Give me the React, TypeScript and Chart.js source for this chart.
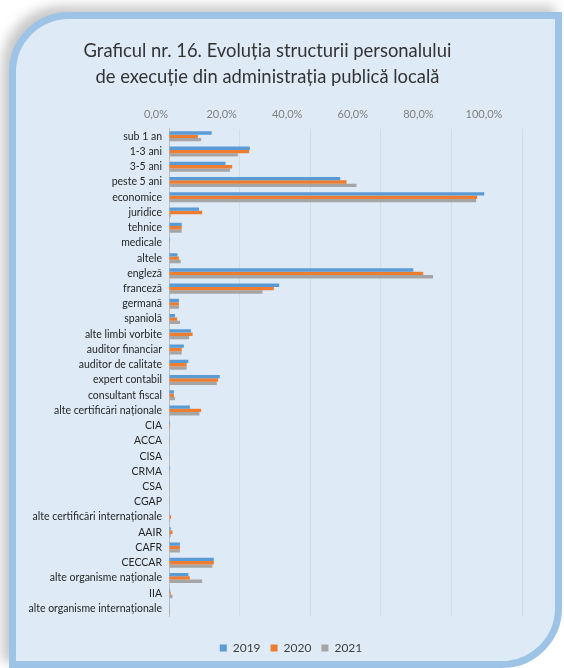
import React, { useEffect, useRef } from "react";
import { Chart, registerables, layouts } from "chart.js";

Chart.register(...registerables);

const categories = [
  "sub 1 an", "1-3 ani", "3-5 ani", "peste 5 ani", "economice", "juridice", "tehnice", "medicale",
  "altele", "engleză", "franceză", "germană", "spaniolă", "alte limbi vorbite", "auditor financiar",
  "auditor de calitate", "expert contabil", "consultant fiscal", "alte certificări naționale",
  "CIA", "ACCA", "CISA", "CRMA", "CSA", "CGAP", "alte certificări internaționale", "AAIR", "CAFR",
  "CECCAR", "alte organisme naționale", "IIA", "alte organisme internaționale",
];

const values2019 = [12.1, 22.9, 16.0, 48.5, 89.3, 8.5, 3.6, 0.3, 2.4, 69.2, 31.2, 2.8, 1.7, 6.2, 4.2, 5.5, 14.4, 1.4, 5.9, 0.3, 0.2, 0.1, 0.3, 0.1, 0.1, 0.2, 0.5, 3.1, 12.7, 5.5, 0.3, 0.2];
const values2020 = [8.2, 22.7, 17.9, 50.3, 87.3, 9.4, 3.6, 0.2, 2.8, 72.0, 29.7, 2.8, 2.3, 6.7, 3.6, 5.0, 13.9, 1.4, 9.1, 0.3, 0.2, 0.1, 0.2, 0.1, 0.2, 0.6, 1.0, 3.1, 12.7, 5.9, 0.5, 0.2];
const values2021 = [9.1, 19.5, 17.3, 53.1, 87.0, 0.5, 3.6, 0.2, 3.3, 74.8, 26.5, 2.8, 3.1, 5.7, 3.6, 5.0, 13.5, 1.7, 8.6, 0.2, 0.1, 0.1, 0.2, 0.2, 0.1, 0.3, 0.5, 3.1, 12.3, 9.4, 1.0, 0.3];

const seriesNames = ["2019", "2020", "2021"];
const xTicks = [0, 20, 40, 60, 80, 100];
const titleLines = [
  "Graficul nr. 16. Evoluția structurii personalului",
  "de execuție din administrația publică locală",
];

const TRAIL = "          ";

function makeSpacer(id: string, position: string, size: number) {
  return {
    id,
    beforeInit(chart: any) {
      const horizontal = position === "top" || position === "bottom";
      const box: any = {
        position,
        weight: 0,
        fullSize: false,
        options: {},
        top: 0, left: 0, right: 0, bottom: 0,
        width: horizontal ? 0 : size,
        height: horizontal ? size : 0,
        isHorizontal: () => horizontal,
        getPadding: () => ({ top: 0, left: 0, right: 0, bottom: 0 }),
        update(maxWidth: number, maxHeight: number) {
          if (horizontal) { box.width = maxWidth; box.height = size; }
          else { box.width = size; box.height = maxHeight; }
        },
        draw() {},
      };
      layouts.addBox(chart, box);
    },
  };
}

const bottomSpacer = makeSpacer("bottomSpacer", "bottom", 16);
const rightSpacer = makeSpacer("rightSpacer", "right", 42);

export default function App() {
  const canvasRef = useRef<HTMLCanvasElement | null>(null);

  useEffect(() => {
    if (!canvasRef.current) return;
    const chart = new Chart(canvasRef.current, {
      type: "bar",
      data: {
        labels: categories,
        datasets: [
          { label: seriesNames[0], data: values2019, backgroundColor: "#5B9BD5" },
          { label: seriesNames[1], data: values2020, backgroundColor: "#ED7D31" },
          { label: seriesNames[2], data: values2021, backgroundColor: "#A5A5A5" },
        ],
      },
      plugins: [bottomSpacer, rightSpacer],
      options: {
        indexAxis: "y",
        animation: false,
        responsive: false,
        maintainAspectRatio: false,
        datasets: { bar: { categoryPercentage: 0.66, barPercentage: 1.0 } },
        layout: { padding: { left: 18, right: 0, top: 0, bottom: 4 } },
        plugins: {
          title: {
            display: true,
            text: titleLines.map((t) => t + TRAIL),
            color: "#333333",
            font: { family: "Lato", size: 18.4, weight: "normal", lineHeight: 1.4 },
            padding: { top: 38, bottom: 10 },
          },
          legend: {
            position: "bottom",
            labels: {
              color: "#404040",
              font: { family: "Lato", size: 12 },
              boxWidth: 7,
              boxHeight: 7,
              padding: 10,
            },
          },
          tooltip: { enabled: false },
        },
        scales: {
          x: {
            position: "top",
            min: 0,
            max: 100,
            afterBuildTicks: (scale: any) => {
              scale.ticks = xTicks.map((v) => ({ value: v }));
            },
            ticks: { display: false },
            grid: { color: "#D6DCE4", drawTicks: false },
            border: { display: false },
          },
          xLabels: {
            type: "linear",
            axis: "x",
            position: "top",
            min: 3.96,
            max: 111.58,
            afterBuildTicks: (scale: any) => {
              scale.ticks = xTicks.map((v) => ({ value: v }));
            },
            ticks: {
              color: "#808080",
              font: { family: "Lato", size: 11 },
              padding: 8,
              autoSkip: false,
              maxRotation: 0,
              callback: (v: any) => Number(v).toFixed(1).replace(".", ",") + "%",
            },
            grid: { display: false, drawTicks: false },
            border: { display: false },
          },
          y: {
            afterFit: (scale: any) => {
              scale.width = 151;
            },
            ticks: {
              color: "#262626",
              font: { family: "Lato", size: 10.5 },
              padding: 7,
              autoSkip: false,
            },
            grid: { display: false, drawTicks: false },
            border: { display: true, color: "#BFBFBF" },
          },
        },
      } as any,
    });
    return () => chart.destroy();
  }, []);

  return (
    <div style={{ position: "absolute", left: 0, top: 0, width: 564, height: 668, background: "#ffffff", overflow: "hidden" }}>
      <div
        style={{
          position: "absolute",
          left: 2,
          top: 6,
          width: 553,
          height: 656,
          background: "#9a9a9a",
          borderRadius: "60px 0 60px 0",
          filter: "blur(6px)",
          opacity: 0.55,
        }}
      />
      <div
        style={{
          position: "absolute",
          left: 9,
          top: 12,
          width: 553,
          height: 656,
          boxSizing: "border-box",
          border: "7px solid #9DC3E6",
          background: "#DEEAF6",
          borderRadius: "60px 0 60px 0",
        }}
      />
      <canvas ref={canvasRef} width={564} height={668} style={{ position: "absolute", left: 0, top: 0 }} />
    </div>
  );
}
